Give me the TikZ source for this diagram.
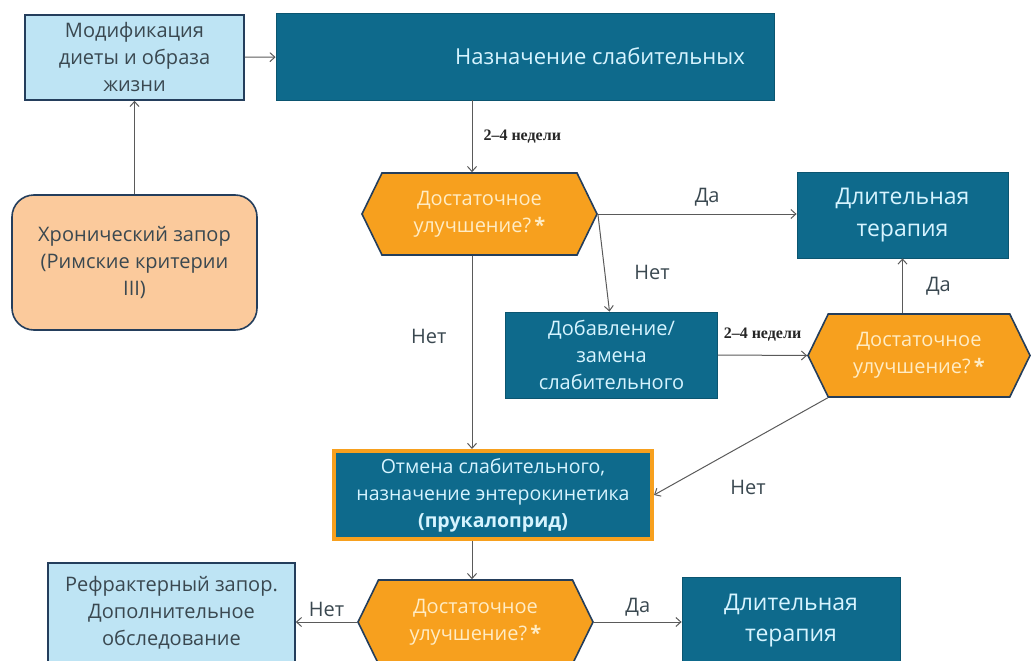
\documentclass[tikz,border=0pt]{standalone}
\usepackage{fontspec}
\setmainfont{Open Sans}
\newfontfamily\weekfont{Liberation Serif}
\usepackage{xcolor}
\usepackage{tikz}
\usetikzlibrary{arrows.meta,positioning,shapes.symbols,calc}
\definecolor{tealbox}{RGB}{14,106,140}
\definecolor{boxtext}{RGB}{214,244,255}
\definecolor{skyfill}{RGB}{190,228,244}
\definecolor{peachfill}{RGB}{251,202,156}
\definecolor{orfill}{RGB}{247,160,30}
\definecolor{hextext}{RGB}{255,236,196}
\definecolor{navyline}{RGB}{36,62,92}
\definecolor{lighttext}{RGB}{58,72,80}
\definecolor{arrgray}{RGB}{90,90,90}
\tikzstyle{arrow}=[-{Straight Barb[length=5pt,width=9pt]}, draw=arrgray, line width=1pt]
\tikzstyle{txt}=[font=\fontsize{20}{27}\selectfont, align=center, inner sep=0pt]

\begin{document}
\begin{tikzpicture}[x=1pt,y=-1pt,
  dark/.style={txt,rectangle,fill=tealbox,draw=tealbox!80!black,line width=0.8pt,text=boxtext},
  light/.style={txt,rectangle,fill=skyfill,draw=navyline,line width=1.6pt,text=lighttext},
  decis/.style={txt,signal,signal to=west and east,signal pointer angle=128,fill=orfill,
    draw=navyline,line width=1.6pt,text=hextext,minimum width=235pt,minimum height=82pt},
  lbl/.style={font=\fontsize{20}{22}\selectfont,text=lighttext,inner sep=1pt},
  wk/.style={font=\weekfont\bfseries\fontsize{16}{18}\selectfont,text=black!85,inner sep=1pt}]
\useasboundingbox (0,0) rectangle (1033,661);

% top row
\node[light,minimum width=219pt,minimum height=85pt] (mod) at (134.5,57.5)
  {Модификация\\диеты и образа\\жизни};
\node[dark,minimum width=498pt,minimum height=87pt,font=\fontsize{22}{27}\selectfont] (main) at (525,56.5)
  {\hspace*{150pt}Назначение слабительных};
\node[light,fill=peachfill,rounded corners=22pt,minimum width=245pt,minimum height=135pt] (chron) at (134.5,262.5)
  {Хронический запор\\(Римские критерии\\III)};
\coordinate (col) at (472,0);

% first check
\node[decis] (hexA) at (479.5,214) {Достаточное\\улучшение?\,\textbf{*}};
\node[dark,minimum width=211pt,minimum height=86pt,font=\fontsize{23}{32}\selectfont] (longA) at (902.5,215)
  {Длительная\\терапия};
\node[dark,minimum width=212pt,minimum height=86pt] (addB) at (611.5,355)
  {Добавление/\\замена\\слабительного};
\node[decis,minimum width=222pt,minimum height=83pt] (hexB) at (919,355.5) {Достаточное\\улучшение?\,\textbf{*}};

% enterokinetic
\node[dark,draw=orfill,line width=4pt,minimum width=318pt,minimum height=88pt,font=\fontsize{19.5}{27}\selectfont] (otm) at (493,495)
  {Отмена слабительного,\\назначение энтерокинетика\\\textbf{(прукалоприд)}};
\node[decis,minimum height=84pt] (hexC) at (475.5,622) {Достаточное\\улучшение?\,\textbf{*}};
\node[dark,minimum width=218pt,minimum height=88pt,font=\fontsize{23}{31}\selectfont] (longC) at (791,621)
  {Длительная\\терапия};
\node[light,minimum width=247pt,minimum height=99pt] (refr) at (171.5,612.5)
  {Рефрактерный запор.\\Дополнительное\\обследование};

% arrows
\draw[arrow] (mod) -- (main);
\draw[arrow] (chron) -- (mod);
\draw[arrow] (main.south -| col) -- node[wk,right=10pt,pos=0.5] (w1) {2–4 недели} (hexA.north -| col);
\draw[arrow] (hexA.east) -- node[lbl,above=6pt,pos=0.55] (y1) {Да} (longA.west |- hexA.east);
\draw[arrow] (hexA.east) -- node[lbl,right=28pt,pos=0.6] (n1) {Нет} ($(addB.north)+(-2,0)$);
\draw[arrow] (hexA.south -| col) -- node[lbl,left=24pt,pos=0.42] (n2) {Нет} (otm.north -| col);
\draw[arrow] (addB.east) -- node[wk,above=12pt] (w2) {2–4 недели} (hexB.west);
\draw[arrow] (hexB.north -| longA.south) -- node[lbl,right=22pt] (y2) {Да} (longA.south);
\draw[arrow] (hexB.south west) -- node[lbl,below right=32pt and -12pt,pos=0.5] (n3) {Нет} (otm.east);
\draw[arrow] (otm.south -| col) -- (hexC.north -| col);
\draw[arrow] (hexC.west) -- node[lbl,above=4pt] (n4) {Нет} (refr.east |- hexC.west);
\draw[arrow] (hexC.east) -- node[lbl,above=4pt] (y3) {Да} (longC.west |- hexC.east);
\end{tikzpicture}
\end{document}
